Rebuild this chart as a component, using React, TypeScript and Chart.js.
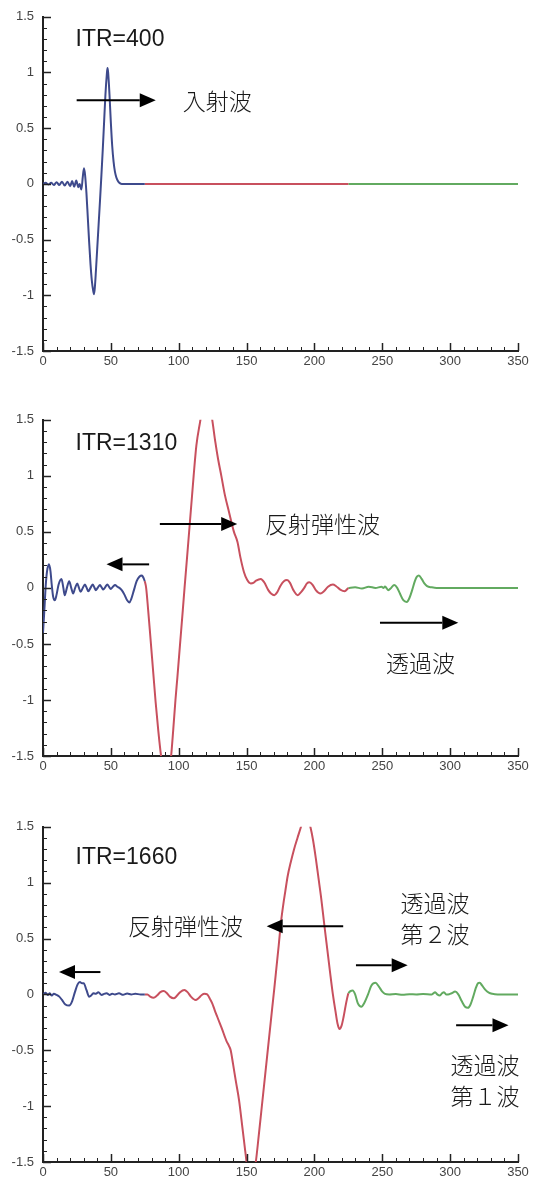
import { useEffect, useRef } from 'react';
import { Chart, registerables } from 'chart.js';

Chart.register(...registerables);

// ---------- axis ticks ----------
const X_TICKS = [0, 50, 100, 150, 200, 250, 300, 350];
const X_TICK_LABELS = ['0', '50', '100', '150', '200', '250', '300', '350'];
const Y_TICKS = [-1.5, -1, -0.5, 0, 0.5, 1, 1.5];
const Y_TICK_LABELS = ['-1.5', '-1', '-0.5', '0', '0.5', '1', '1.5'];

// ---------- ITR=400 ----------
const itr400BlueX = [0, 2, 4, 6, 8, 10, 12, 14, 16, 18, 20, 21.5, 23, 24.5, 26, 27, 28.3, 29.3, 30.2, 31, 32, 33, 34, 35, 36, 37, 37.6, 38.2, 39, 40, 41, 42, 43, 44, 45, 46, 47, 47.5, 48, 49, 50, 51, 52, 53, 54, 55, 56, 58, 62, 68, 75];
const itr400BlueY = [0, 0.01, -0.005, 0.01, -0.01, 0.015, -0.01, 0.02, -0.015, 0.02, -0.02, 0.025, -0.025, 0.03, -0.03, 0, -0.05, 0.06, 0.14, 0.08, -0.08, -0.3, -0.52, -0.72, -0.87, -0.96, -0.99, -0.93, -0.78, -0.57, -0.36, -0.15, 0.07, 0.3, 0.55, 0.8, 0.98, 1.04, 1.0, 0.8, 0.55, 0.34, 0.2, 0.11, 0.06, 0.03, 0.012, 0, 0, 0, 0];
const itr400RedX = [75, 100, 150, 200, 225];
const itr400RedY = [0, 0, 0, 0, 0];
const itr400GreenX = [225, 250, 300, 350];
const itr400GreenY = [0, 0, 0, 0];

// ---------- ITR=1310 ----------
const itr1310BlueX = [0, 1, 2, 3, 4.4, 5.5, 6.5, 7.5, 8.7, 10, 11.5, 13.6, 15, 16, 17.6, 19.3, 20.8, 22.2, 23.7, 25.2, 26.5, 27.7, 29.3, 30.9, 32.2, 33.4, 35, 36.6, 37.8, 39, 40.5, 42, 43.2, 44.4, 46, 47.4, 48.7, 49.9, 51.5, 53.1, 54.8, 56.3, 58, 60, 62, 63.7, 65, 67, 69, 71, 72.9, 74, 75];
const itr1310BlueY = [-0.4, -0.2, 0.02, 0.15, 0.21, 0.15, 0.02, -0.08, -0.11, -0.06, 0.03, 0.08, 0, -0.065, 0, 0.06, 0, -0.05, 0, 0.04, 0, -0.035, 0, 0.03, 0, -0.03, 0, 0.03, 0.005, -0.02, 0.005, 0.025, 0.005, -0.015, 0.01, 0.03, 0.01, -0.01, 0.01, 0.025, 0.01, 0, -0.02, -0.06, -0.11, -0.13, -0.1, -0.02, 0.06, 0.1, 0.11, 0.09, 0.06];
const itr1310RedX = [75, 76, 77.5, 79, 81, 83, 85, 87, 89, 90.8, 92.5, 94.4, 96, 97.6, 99, 101, 103, 104.3, 106, 108, 110, 111, 113, 116, 118, 120.3, 122.5, 124.7, 127, 129, 131.4, 134, 137, 140.7, 143.3, 145.5, 148.1, 150.5, 153.1, 155, 157, 160.5, 163, 166, 168, 170.4, 172.5, 175, 177.5, 179.8, 182, 184.5, 187.7, 190, 192.5, 194.5, 196.3, 198.5, 201, 204.4, 207, 210, 213.6, 216, 219, 222.2, 225];
const itr1310RedY = [0.06, 0, -0.2, -0.42, -0.72, -1.02, -1.28, -1.5, -1.66, -1.72, -1.66, -1.5, -1.26, -1.0, -0.8, -0.5, -0.2, 0, 0.25, 0.55, 0.85, 1.0, 1.27, 1.5, 1.66, 1.72, 1.65, 1.5, 1.3, 1.15, 1.0, 0.83, 0.68, 0.5, 0.41, 0.27, 0.14, 0.07, 0.04, 0.045, 0.065, 0.08, 0.05, -0.02, -0.05, -0.065, -0.04, 0.02, 0.06, 0.07, 0.045, -0.02, -0.065, -0.04, 0, 0.04, 0.05, 0.03, -0.02, -0.05, -0.03, 0.01, 0.03, 0.015, -0.015, -0.03, 0];
const itr1310GreenX = [225, 230, 235, 240, 245, 249.4, 251, 252, 254.4, 256.5, 258.8, 261, 263, 265.5, 268, 270, 272, 274, 275.5, 277, 279, 281, 283, 286.5, 290, 320, 350];
const itr1310GreenY = [0, 0.005, -0.005, 0.01, 0, 0.01, 0, 0.012, -0.02, 0, 0.025, 0, -0.05, -0.11, -0.125, -0.09, -0.02, 0.06, 0.1, 0.11, 0.08, 0.04, 0.015, 0.005, 0, 0, 0];

// ---------- ITR=1660 ----------
const itr1660BlueX = [0, 2, 3.5, 5, 6.5, 8, 10, 12, 14, 16.5, 19.3, 21.5, 23.5, 25.5, 27.2, 28.8, 30, 32, 34, 35.5, 37, 39, 40.8, 43.2, 45, 46.9, 49, 51, 53, 56, 59, 62, 65, 68, 72, 75];
const itr1660BlueY = [0, 0.015, -0.005, 0.01, -0.01, 0.005, -0.005, -0.02, -0.05, -0.09, -0.1, -0.06, 0.02, 0.09, 0.11, 0.1, 0.1, 0.04, -0.02, -0.01, 0.01, 0.005, 0.02, -0.005, 0.005, 0.01, -0.005, 0.005, 0, 0.01, -0.003, 0.008, 0, 0.005, 0, 0];
const itr1660RedX = [75, 77, 79, 81.5, 84, 86.5, 88.9, 91, 93.5, 96.3, 98.5, 101, 104.2, 106.5, 109, 112.4, 114.5, 117, 119, 121, 123, 124.7, 126.5, 128.4, 130.3, 132.1, 134, 135.3, 137, 138.3, 140, 142, 144.5, 147, 149, 150, 151.8, 153.5, 155.2, 156.8, 159, 161, 163, 165, 167, 169, 170.5, 172, 173.7, 175.3, 177, 178.5, 180.3, 182.5, 185, 187.5, 190.1, 192, 193.6, 195.3, 197, 199, 201, 203, 205, 207.4, 209.5, 211.5, 213.6, 215.5, 217, 218.5, 220, 221.5, 223, 224, 225];
const itr1660RedY = [0, 0, -0.02, -0.03, -0.01, 0.02, 0.03, 0.015, -0.02, -0.035, -0.015, 0.02, 0.04, 0.02, -0.02, -0.05, -0.035, -0.005, 0.005, 0, -0.04, -0.08, -0.14, -0.2, -0.26, -0.315, -0.38, -0.42, -0.46, -0.5, -0.62, -0.77, -0.95, -1.2, -1.4, -1.5, -1.6, -1.64, -1.6, -1.5, -1.26, -1.03, -0.8, -0.57, -0.34, -0.11, 0.06, 0.24, 0.44, 0.64, 0.8, 0.92, 1.06, 1.18, 1.3, 1.4, 1.5, 1.58, 1.6, 1.57, 1.5, 1.38, 1.22, 1.04, 0.86, 0.61, 0.4, 0.2, 0, -0.15, -0.26, -0.31, -0.28, -0.2, -0.1, -0.04, 0.01];
const itr1660GreenX = [225, 226.5, 228.2, 230, 232, 234.6, 237, 239.5, 242, 245, 247.5, 250, 252, 255, 260, 265, 270, 275, 280, 286.5, 289, 290.5, 292.5, 294, 295.5, 297, 298.5, 301, 303.7, 306, 308.5, 311, 313.1, 315, 317, 319, 320.5, 321.8, 323.5, 326, 328.5, 331, 335, 350];
const itr1660GreenY = [0.01, 0.03, 0.035, 0, -0.08, -0.11, -0.07, 0, 0.08, 0.105, 0.07, 0.025, 0.005, 0, 0.003, -0.003, 0.002, 0, 0.003, 0, 0.02, 0, -0.01, 0.01, 0.02, 0, 0, 0.01, 0.025, 0, -0.06, -0.11, -0.12, -0.09, -0.02, 0.06, 0.1, 0.105, 0.08, 0.04, 0.015, 0.005, 0, 0];

// ---------- styles ----------
const BLUE = '#3e4a8c';
const RED = '#c8505e';
const GREEN = '#62aa60';
const TICK_FONT = { family: '"Liberation Sans", Arial, sans-serif', size: 13 };
const TICK_COLOR = '#444';
const AXIS_COLOR = '#222';
const ITR_FONT = '23px "Liberation Sans", Arial, sans-serif';
const JP_FONT = '300 23px "Noto Sans CJK JP", sans-serif';

type Seg = { xs: number[]; ys: number[]; color: string };
type Note =
  | { kind: 'text'; x: number; y: number; text: string; font: string; align: CanvasTextAlign; baseline: CanvasTextBaseline }
  | { kind: 'arrow'; x1: number; x2: number; y: number };

const panels: { top: number; height: number; plot: number; segs: Seg[]; notes: Note[] }[] = [
  {
    top: 0, height: 390, plot: 338,
    segs: [
      { xs: itr400BlueX, ys: itr400BlueY, color: BLUE },
      { xs: itr400RedX, ys: itr400RedY, color: RED },
      { xs: itr400GreenX, ys: itr400GreenY, color: GREEN },
    ],
    notes: [
      { kind: 'text', x: 24, y: 1.24, text: 'ITR=400', font: ITR_FONT, align: 'left', baseline: 'alphabetic' },
      { kind: 'arrow', x1: 24.8, x2: 83.1, y: 0.75 },
      { kind: 'text', x: 103, y: 0.74, text: '入射波', font: JP_FONT, align: 'left', baseline: 'middle' },
    ],
  },
  {
    top: 403, height: 390, plot: 340,
    segs: [
      { xs: itr1310BlueX, ys: itr1310BlueY, color: BLUE },
      { xs: itr1310RedX, ys: itr1310RedY, color: RED },
      { xs: itr1310GreenX, ys: itr1310GreenY, color: GREEN },
    ],
    notes: [
      { kind: 'text', x: 24, y: 1.23, text: 'ITR=1310', font: ITR_FONT, align: 'left', baseline: 'alphabetic' },
      { kind: 'arrow', x1: 86.1, x2: 143.1, y: 0.57 },
      { kind: 'text', x: 163.5, y: 0.565, text: '反射弾性波', font: JP_FONT, align: 'left', baseline: 'middle' },
      { kind: 'arrow', x1: 78.2, x2: 46.8, y: 0.21 },
      { kind: 'arrow', x1: 248.3, x2: 306, y: -0.31 },
      { kind: 'text', x: 278.2, y: -0.67, text: '透過波', font: JP_FONT, align: 'center', baseline: 'middle' },
    ],
  },
  {
    top: 810, height: 370, plot: 339,
    segs: [
      { xs: itr1660BlueX, ys: itr1660BlueY, color: BLUE },
      { xs: itr1660RedX, ys: itr1660RedY, color: RED },
      { xs: itr1660GreenX, ys: itr1660GreenY, color: GREEN },
    ],
    notes: [
      { kind: 'text', x: 24, y: 1.17, text: 'ITR=1660', font: ITR_FONT, align: 'left', baseline: 'alphabetic' },
      { kind: 'text', x: 62.7, y: 0.61, text: '反射弾性波', font: JP_FONT, align: 'left', baseline: 'middle' },
      { kind: 'arrow', x1: 221.2, x2: 164.8, y: 0.61 },
      { kind: 'arrow', x1: 42.3, x2: 11.8, y: 0.2 },
      { kind: 'text', x: 288.9, y: 0.82, text: '透過波', font: JP_FONT, align: 'center', baseline: 'middle' },
      { kind: 'text', x: 288.9, y: 0.54, text: '第２波', font: JP_FONT, align: 'center', baseline: 'middle' },
      { kind: 'arrow', x1: 230.6, x2: 268.7, y: 0.26 },
      { kind: 'arrow', x1: 304.4, x2: 343, y: -0.277 },
      { kind: 'text', x: 325.7, y: -0.63, text: '透過波', font: JP_FONT, align: 'center', baseline: 'middle' },
      { kind: 'text', x: 325.7, y: -0.91, text: '第１波', font: JP_FONT, align: 'center', baseline: 'middle' },
    ],
  },
];

function makeOverlay(notes: Note[]) {
  return {
    id: 'overlay',
    afterDraw(chart: any) {
      const ctx: CanvasRenderingContext2D = chart.ctx;
      const xs = chart.scales.x;
      const ys = chart.scales.y;
      const a = chart.chartArea;
      ctx.save();
      ctx.strokeStyle = AXIS_COLOR;
      // x ticks (inward)
      for (let v = 0; v <= 350; v += 10) {
        const px = Math.round(xs.getPixelForValue(v)) + 0.5;
        const major = v % 50 === 0;
        ctx.lineWidth = major ? 1.5 : 1;
        ctx.beginPath();
        ctx.moveTo(px, a.bottom);
        ctx.lineTo(px, a.bottom - (major ? 8 : 4));
        ctx.stroke();
      }
      // y ticks (inward)
      for (let k = -15; k <= 15; k++) {
        const v = k / 10;
        const py = Math.round(ys.getPixelForValue(v)) + 0.5;
        const major = k % 5 === 0;
        ctx.lineWidth = major ? 1.5 : 1;
        ctx.beginPath();
        ctx.moveTo(a.left, py);
        ctx.lineTo(a.left + (major ? 8 : 4), py);
        ctx.stroke();
      }
      // annotations
      for (const n of notes) {
        if (n.kind === 'text') {
          ctx.font = n.font;
          ctx.fillStyle = '#1a1a1a';
          ctx.textAlign = n.align;
          ctx.textBaseline = n.baseline;
          ctx.fillText(n.text, xs.getPixelForValue(n.x), ys.getPixelForValue(n.y));
        } else {
          const x1 = xs.getPixelForValue(n.x1);
          const x2 = xs.getPixelForValue(n.x2);
          const y = ys.getPixelForValue(n.y);
          const dir = x2 > x1 ? 1 : -1;
          const head = 16;
          ctx.strokeStyle = '#000';
          ctx.fillStyle = '#000';
          ctx.lineWidth = 2;
          ctx.beginPath();
          ctx.moveTo(x1, y);
          ctx.lineTo(x2 - dir * head, y);
          ctx.stroke();
          ctx.beginPath();
          ctx.moveTo(x2, y);
          ctx.lineTo(x2 - dir * head, y - 7);
          ctx.lineTo(x2 - dir * head, y + 7);
          ctx.closePath();
          ctx.fill();
        }
      }
      ctx.restore();
    },
  };
}

function WavePanel({ top, height, plot, segs, notes }: { top: number; height: number; plot: number; segs: Seg[]; notes: Note[] }) {
  const ref = useRef<HTMLCanvasElement>(null);
  useEffect(() => {
    if (!ref.current) return;
    const chart = new Chart(ref.current, {
      type: 'line',
      data: {
        datasets: segs.map((s) => ({
          data: s.xs.map((x, i) => ({ x, y: s.ys[i] })),
          borderColor: s.color,
          borderWidth: 2,
          pointRadius: 0,
          fill: false,
          cubicInterpolationMode: 'monotone' as const,
        })),
      },
      options: {
        animation: false,
        responsive: false,
        maintainAspectRatio: false,
        events: [],
        layout: { padding: { top: 13, right: 21, left: 0, bottom: 0 } },
        plugins: { legend: { display: false }, tooltip: { enabled: false } },
        scales: {
          x: {
            type: 'linear',
            min: 0,
            max: 350,
            afterBuildTicks: (s: any) => {
              s.ticks = X_TICKS.map((v) => ({ value: v }));
            },
            afterFit: (s: any) => {
              s.height = height - 13 - plot;
            },
            ticks: {
              callback: (_v: any, i: number) => X_TICK_LABELS[i],
              font: TICK_FONT,
              color: TICK_COLOR,
              padding: 3,
              maxRotation: 0,
              autoSkip: false,
            },
            grid: { display: false, drawTicks: false },
            border: { display: true, color: AXIS_COLOR, width: 2 },
          },
          y: {
            type: 'linear',
            min: -1.5,
            max: 1.5,
            afterBuildTicks: (s: any) => {
              s.ticks = Y_TICKS.map((v) => ({ value: v }));
            },
            afterFit: (s: any) => {
              s.width = 43;
            },
            ticks: {
              callback: (_v: any, i: number) => Y_TICK_LABELS[i],
              font: TICK_FONT,
              color: TICK_COLOR,
              padding: 9,
              autoSkip: false,
            },
            grid: { display: false, drawTicks: false },
            border: { display: true, color: AXIS_COLOR, width: 2 },
          },
        },
      },
      plugins: [makeOverlay(notes)],
    } as any);
    return () => chart.destroy();
  }, []);
  return (
    <canvas
      ref={ref}
      width={539}
      height={height}
      style={{ position: 'absolute', left: 0, top, width: 539, height, display: 'block' }}
    />
  );
}

export default function App() {
  return (
    <div style={{ position: 'absolute', left: 0, top: 0, width: 539, height: 1180, overflow: 'hidden', background: '#fff' }}>
      {panels.map((p, i) => (
        <WavePanel key={i} top={p.top} height={p.height} plot={p.plot} segs={p.segs} notes={p.notes} />
      ))}
    </div>
  );
}
